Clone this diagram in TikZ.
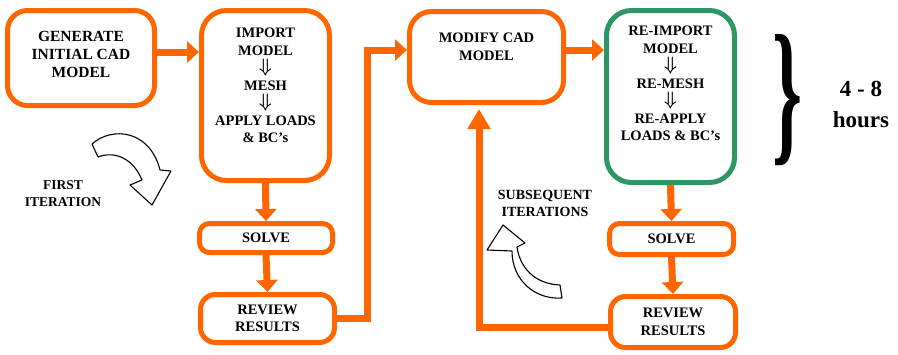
\documentclass[tikz,border=0pt]{standalone}
\usepackage{fontspec}
\setmainfont{Liberation Serif}
\usetikzlibrary{arrows.meta,positioning}
\definecolor{flowor}{RGB}{255,102,0}
\definecolor{flowgr}{RGB}{46,150,100}
\newcommand\boxfont{\fontsize{14.5}{17.5}\selectfont\bfseries}
\newcommand\dnarrow{\scalebox{1.25}[1.35]{\boldmath$\Downarrow$}}

\begin{document}
\begin{tikzpicture}[x=1pt,y=-1pt,
  box/.style={draw=flowor, line width=5pt, fill=white, rounded corners=#1,
    inner sep=0pt, align=center, font=\boxfont},
  box/.default=15pt,
  lbl/.style={font=\boxfont, align=center, inner sep=0pt},
  flowline/.style={draw=flowor, line width=7pt},
  flowarrow/.style={flowline, -{Triangle[length=12pt,width=21pt]}},
  bent/.style={draw=black, line width=1.1pt, fill=white, line join=round}]
\useasboundingbox (0,0) rectangle (898,354);

% first pass
\node[box=20pt, minimum width=147pt, minimum height=95pt] (gen) at (81,58) {};
\node[lbl, font=\fontsize{15.5}{18}\selectfont\bfseries] (gent) at ([yshift=4pt]gen.center)
  {GENERATE\\INITIAL CAD\\MODEL};
\node[box=25pt, minimum width=128pt, minimum height=170pt] (imp) at (265.5,95.5) {};
\node[lbl, anchor=north] (impt) at ([yshift=-20pt]imp.north)
  {IMPORT\\MODEL\\\dnarrow\\MESH\\\dnarrow\\APPLY LOADS\\\& BC’s};
\node[box=10pt, minimum width=133pt, minimum height=29pt] (solvea) at (266,238) {SOLVE};
\node[box=15pt, minimum width=134pt, minimum height=48pt] (reva) at (267.5,318.5) {REVIEW\\RESULTS};

% later passes
\node[box=22pt, minimum width=154pt, minimum height=91pt] (mod) at (486.5,57) {};
\node[lbl, anchor=north] (modt) at ([yshift=-24pt]mod.north) {MODIFY CAD\\MODEL};
\node[box=25pt, draw=flowgr, minimum width=128pt, minimum height=172pt] (reimp) at (670.5,96.5) {};
\node[lbl, anchor=north] (reimpt) at ([yshift=-18pt]reimp.north)
  {RE-IMPORT\\MODEL\\\dnarrow\\RE-MESH\\\dnarrow\\RE-APPLY\\LOADS \& BC’s};
\node[box=10pt, minimum width=124pt, minimum height=31pt] (solveb) at (671.5,239) {SOLVE};
\node[box=15pt, minimum width=125pt, minimum height=51pt] (revb) at (673,322) {REVIEW\\RESULTS};

\coordinate (up) at (367,50);
\coordinate (back) at (479,327);

\draw[flowarrow] ([yshift=6pt]gen.east) -- ([yshift=6pt]gen.east -| imp.west);
\draw[flowarrow] (imp.south) -- (solvea.north);
\draw[flowarrow] (solvea.south) -- (reva.north);
\draw[flowarrow] (reva.east) -| (up) -- (up -| mod.west);
\draw[flowarrow] ([yshift=7pt]mod.east) -- ([yshift=7pt]mod.east -| reimp.west);
\draw[flowarrow] (reimp.south) -- (solveb.north);
\draw[flowarrow] (solveb.south) -- (revb.north);
\draw[flowline, -{Triangle[length=20pt,width=22pt]}] (revb.west |- back) -- (back) -- ([yshift=-4pt]back |- mod.south);

% curved hints
\draw[bent] (92,144) .. controls (112,126) and (150,130) .. (160,170)
  -- (171,171) -- (152,205) -- (130,185) -- (142,180)
  .. controls (134,160) and (116,150) .. (98,157) -- cycle;
\node[lbl, font=\fontsize{13.5}{17}\selectfont\bfseries] (first) at (63,193.5) {FIRST\\ITERATION};

\draw[bent] (560,285) -- (562,298) .. controls (535,300) and (512,280) .. (512,251)
  -- (487,250) -- (503,225) -- (525,243) -- (517,247)
  .. controls (520,268) and (535,284) .. (560,285) -- cycle;
\node[lbl, font=\fontsize{14}{17}\selectfont\bfseries] (subs) at (545,203.5) {SUBSEQUENT\\ITERATIONS};

% time needed
\node[inner sep=0pt] (brace) at (787,100) {\resizebox{30pt}{110pt}{\bfseries\}}};
\node[lbl, font=\fontsize{23}{31}\selectfont\bfseries] (hrs) at (861,104) {4 - 8\\hours};
\end{tikzpicture}
\end{document}
